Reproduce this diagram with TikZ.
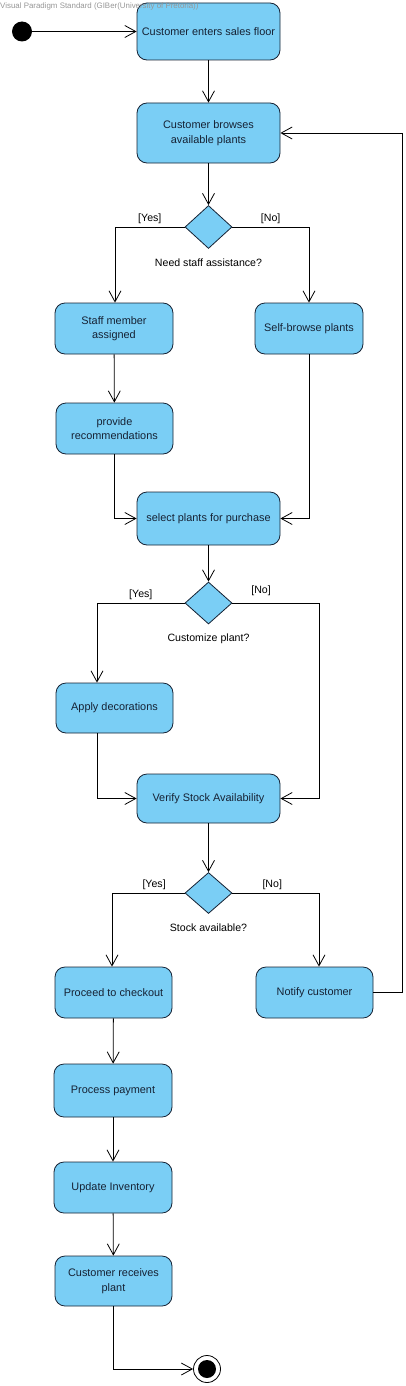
\documentclass[tikz,border=0pt]{standalone}
\usepackage{fontspec}
\setmainfont{Liberation Sans}
\usepackage{tikz}
\usetikzlibrary{arrows.meta, positioning, shapes.geometric}
\definecolor{sky}{RGB}{122,206,245}
\definecolor{ink}{RGB}{22,34,52}
\definecolor{stampgray}{RGB}{150,150,150}

\begin{document}
\begin{tikzpicture}[x=1pt, y=-1pt,
		action/.style = {draw=ink, fill=sky, rounded corners=10pt, line width=0.8pt, text=ink, align=center, inner sep=2pt, font=\fontsize{10.9}{14.5}\selectfont},
		decision/.style = {draw=ink, fill=sky, diamond, line width=0.8pt, minimum width=47pt, minimum height=43pt, inner sep=0pt},
		flow/.style = {draw=black, line width=0.8pt, -{Straight Barb[length=11pt,width=12pt]}},
		guard/.style = {font=\fontsize{10.6}{12}\selectfont, text=black}
	]
				\useasboundingbox (0,0) rectangle (406,1386);

				%--------------------------------------------------------------------
				\node(start) [circle, fill=black, minimum size=20pt, inner sep=0pt] at (22,31.5) {};
				\node(enter) [action, minimum width=143pt, minimum height=57pt] at (208.5,31.5) {Customer enters sales floor};
				\node(browse) [action, minimum width=143pt, minimum height=60pt] at (208.5,133) {Customer browses\\available plants};

				%--------------------------------------------------------------------
				\node(dec1) [decision] at (208.5,227) {};
				\node(ask1) [guard, below=6pt of dec1] {Need staff assistance?};
				\node(staff) [action, minimum width=118pt, minimum height=51pt] at (114,328.5) {Staff member\\assigned};
				\node(self) [action, minimum width=108pt, minimum height=51pt] at (309,328.5) {Self-browse plants};
				\node(provide) [action, minimum width=117pt, minimum height=51pt] at (114.5,428.5) {provide\\recommendations};
				\node(select) [action, minimum width=143pt, minimum height=53pt] at (208.5,518.5) {select plants for purchase};

				%--------------------------------------------------------------------
				\node(dec2) [decision, minimum height=42pt] at (208.5,603) {};
				\node(ask2) [guard, below=6pt of dec2] {Customize plant?};
				\node(apply) [action, minimum width=117pt, minimum height=50pt] at (114.5,708) {Apply decorations};
				\node(verify) [action, minimum width=143pt, minimum height=49pt] at (208.5,798.5) {Verify Stock Availability};

				%--------------------------------------------------------------------
				\node(dec3) [decision, minimum height=41pt] at (208.5,893) {};
				\node(ask3) [guard, below=6pt of dec3] {Stock available?};
				\node(proceed) [action, minimum width=117pt, minimum height=51pt] at (113.5,992.5) {Proceed to checkout};
				\node(notify) [action, minimum width=117pt, minimum height=51pt] at (314.5,992.5) {Notify customer};
				\node(payment) [action, minimum width=118pt, minimum height=53pt] at (113,1090.5) {Process payment};
				\node(inventory) [action, minimum width=118pt, minimum height=51pt] at (113,1187.5) {Update Inventory};
				\node(receives) [action, minimum width=117pt, minimum height=50pt] at (113.5,1281) {Customer receives\\plant};
				\node(final) [circle, draw=black, fill=white, line width=0.8pt, minimum size=27pt, inner sep=0pt] at (207,1369) {};
				\node(finaldot) [circle, fill=black, minimum size=18pt, inner sep=0pt] at (final) {};

				%--------------------------------------------------------------------
				\draw[flow] (start) -- (enter);
				\draw[flow] (enter) -- (browse);
				\draw[flow] (browse) -- (dec1);
				\draw[flow] (dec1.west) -| node[guard, pos=0.25, above] {[Yes]} ([xshift=1pt]staff.north);
				\draw[flow] (dec1.east) -| node[guard, pos=0.25, above] {[No]} (self.north);
				\draw[flow] (staff) -- (provide);
				\draw[flow] (provide.south) |- (select.west);
				\draw[flow] (self.south) |- (select.east);
				\draw[flow] (select) -- (dec2);
				\draw[flow] (dec2.west) -| node[guard, pos=0.25, above] {[Yes]} ([xshift=-17.5pt]apply.north);
				\draw[flow] (dec2.east) -- node[guard, pos=0.33, above=4pt] {[No]} ++(87,0) |- (verify.east);
				\draw[flow] ([xshift=-17.5pt]apply.south) |- (verify.west);
				\draw[flow] (verify) -- (dec3);
				\draw[flow] (dec3.west) -| node[guard, pos=0.21, above] {[Yes]} ([xshift=-1.5pt]proceed.north);
				\draw[flow] (dec3.east) -| node[guard, pos=0.23, above] {[No]} ([xshift=4.5pt]notify.north);
				\draw[flow] (notify.east) -- ++(29,0) |- (browse.east);
				\draw[flow] (proceed) -- (payment);
				\draw[flow] (payment) -- (inventory);
				\draw[flow] (inventory) -- (receives);
				\draw[flow] (receives.south) |- (final.west);

				%--------------------------------------------------------------------
				\node(stamp) [anchor=north west, inner sep=0pt, text=stampgray, font=\fontsize{7.9}{9}\selectfont] at (0,3) {Visual Paradigm Standard (GIBer(University of Pretoria))};
\end{tikzpicture}
\end{document}
